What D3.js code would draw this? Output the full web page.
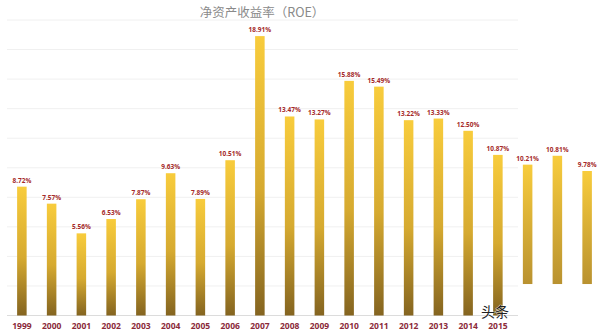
<!DOCTYPE html>
<html><head><meta charset="utf-8">
<script src="https://cdn.jsdelivr.net/npm/d3@7"></script>
<style>html,body{margin:0;padding:0;background:#fff;}svg{display:block;}</style>
</head><body>
<svg id="c" width="607" height="333"></svg>
<script>
const title = "净资产收益率（ROE）";
const categories = ["1999","2000","2001","2002","2003","2004","2005","2006","2007","2008","2009","2010","2011","2012","2013","2014","2015","2016","2017","2018"];
const tickLabels = ["1999","2000","2001","2002","2003","2004","2005","2006","2007","2008","2009","2010","2011","2012","2013","2014","2015","","",""];
const roe = [8.72,7.57,5.56,6.53,7.87,9.63,7.89,10.51,18.91,13.47,13.27,15.88,15.49,13.22,13.33,12.50,10.87,10.21,10.81,9.78];
const barBase = [0,0,0,0,0,0,0,0,0,0,0,0,0,0,0,0,0,2.13,2.13,2.13];
const valueLabels = ["8.72%","7.57%","5.56%","6.53%","7.87%","9.63%","7.89%","10.51%","18.91%","13.47%","13.27%","15.88%","15.49%","13.22%","13.33%","12.50%","10.87%","10.21%","10.81%","9.78%"];
const gridValues = [0,2,4,6,8,10,12,14,16,18,20];

const svg = d3.select("#c");
const x = d3.scaleBand().domain(categories).range([7, 602]).paddingInner(0.68).paddingOuter(0.34);
const y = d3.scaleLinear().domain([0, 20]).range([315.5, 20]);

const defs = svg.append("defs");
const g1 = defs.append("linearGradient").attr("id","gold").attr("x1",0).attr("y1",0).attr("x2",0).attr("y2",1);
g1.append("stop").attr("offset","0%").attr("stop-color","#f8cc3c");
g1.append("stop").attr("offset","55%").attr("stop-color","#d6aa30");
g1.append("stop").attr("offset","100%").attr("stop-color","#846420");
const g2 = defs.append("linearGradient").attr("id","gold2").attr("x1",0).attr("y1",0).attr("x2",0).attr("y2",1);
g2.append("stop").attr("offset","0%").attr("stop-color","#f8cc3c");
g2.append("stop").attr("offset","100%").attr("stop-color","#b99230");

// gridlines
svg.append("g").selectAll("line").data(gridValues).join("line")
  .attr("x1", 7).attr("x2", 518)
  .attr("y1", d => y(d)).attr("y2", d => y(d))
  .attr("stroke", d => d === 0 ? "#dcdcdc" : "#f0f0f0").attr("stroke-width", 1);

// title
svg.append("text").attr("x", 262).attr("y", 17).attr("text-anchor","middle")
  .attr("font-family","'Noto Sans CJK SC', sans-serif").attr("font-size", 12.5).attr("fill","#8a8a8a")
  .text(title);

// bars
svg.append("g").selectAll("rect").data(categories).join("rect")
  .attr("x", d => x(d))
  .attr("width", x.bandwidth())
  .attr("y", (d,i) => y(roe[i]))
  .attr("height", (d,i) => y(barBase[i]) - y(roe[i]))
  .attr("fill", (d,i) => barBase[i] > 0 ? "url(#gold2)" : "url(#gold)");

// value labels
svg.append("g").selectAll("text").data(categories).join("text")
  .attr("x", d => x(d) + x.bandwidth()/2)
  .attr("y", (d,i) => y(roe[i]) - 4)
  .attr("text-anchor","middle")
  .attr("font-family","'Open Sans', sans-serif").attr("font-weight","bold").attr("font-size", 6.5)
  .attr("fill","#a52a2a")
  .text((d,i) => valueLabels[i]);

// x axis labels
const xAxis = d3.axisBottom(x).tickSize(0).tickFormat((d,i) => tickLabels[i]);
const ax = svg.append("g").attr("transform", `translate(0,${y(0)})`).call(xAxis);
ax.select(".domain").remove();
ax.selectAll("text").attr("dy", 0).attr("y", 13)
  .attr("font-family","'Open Sans', sans-serif").attr("font-weight","bold").attr("font-size", 8.5)
  .attr("fill","#8b2a3a");

// watermark
svg.append("text").attr("x", 495).attr("y", 316.5).attr("text-anchor","middle")
  .attr("font-family","'Noto Sans CJK SC', sans-serif").attr("font-size", 14)
  .attr("fill","#222").attr("stroke","#fff").attr("stroke-width",0.6).attr("paint-order","stroke")
  .text("头条");
</script>
</body></html>
